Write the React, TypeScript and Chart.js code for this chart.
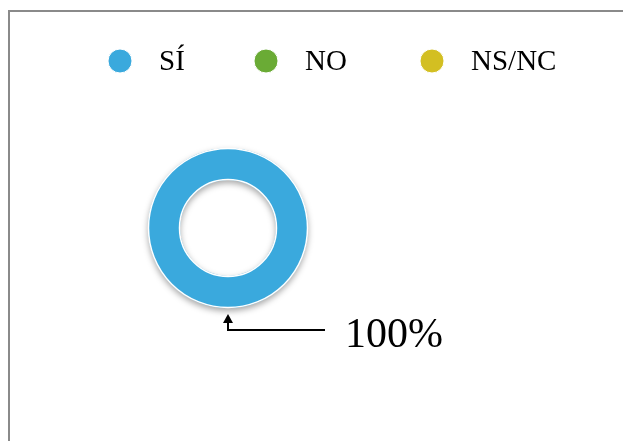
import React, { useEffect, useRef } from "react";
import { Chart, registerables } from "chart.js";

Chart.register(...registerables);

const categories = ["SÍ", "NO", "NS/NC"];
const values = [100, 0, 0];
const colors = ["#3AA9DD", "#6AAB35", "#D3BF22"];

const legendPlugin = {
  id: "customLegend",
  afterDraw(chart: any) {
    const ctx = chart.ctx;
    ctx.save();
    const cy = 61;
    const r = 12;
    const starts = [120, 266, 432];
    ctx.font = "29px 'Liberation Serif', 'Times New Roman', serif";
    ctx.textBaseline = "middle";
    categories.forEach((lab, i) => {
      const cx = starts[i];
      ctx.beginPath();
      ctx.arc(cx, cy, r, 0, Math.PI * 2);
      ctx.fillStyle = colors[i];
      ctx.fill();
      ctx.lineWidth = 1;
      ctx.strokeStyle = "#ffffff";
      ctx.stroke();
      ctx.fillStyle = "#000000";
      ctx.fillText(lab, cx + 39, cy + 1);
    });
    ctx.restore();
  },
};

const shadowPlugin = {
  id: "arcShadow",
  beforeDatasetDraw(chart: any) {
    const ctx = chart.ctx;
    ctx.save();
    ctx.shadowColor = "rgba(0,0,0,0.35)";
    ctx.shadowBlur = 6;
    ctx.shadowOffsetY = 3;
  },
  afterDatasetDraw(chart: any) {
    const ctx = chart.ctx;
    ctx.restore();
    const meta = chart.getDatasetMeta(0);
    const arc = meta.data[0];
    if (!arc) return;
    const { x, y, outerRadius, innerRadius } = arc.getProps(["x", "y", "outerRadius", "innerRadius"], true);
    ctx.save();
    ctx.strokeStyle = "#ffffff";
    ctx.lineWidth = 1.5;
    ctx.beginPath();
    ctx.arc(x, y, outerRadius - 0.5, 0, Math.PI * 2);
    ctx.stroke();
    ctx.beginPath();
    ctx.arc(x, y, innerRadius + 0.5, 0, Math.PI * 2);
    ctx.stroke();
    ctx.restore();
  },
};

const annotationPlugin = {
  id: "pctAnnotation",
  afterDraw(chart: any) {
    const meta = chart.getDatasetMeta(0);
    const total = values.reduce((a, b) => a + b, 0);
    const idx = values.findIndex((v) => v > 0);
    const arc = meta.data[idx];
    if (!arc) return;
    const { x, y, outerRadius } = arc.getProps(["x", "y", "outerRadius"], true);
    const ctx = chart.ctx;
    ctx.save();
    const tipY = y + outerRadius + 8;
    const lineY = tipY + 14;
    ctx.strokeStyle = "#000";
    ctx.lineWidth = 2;
    ctx.beginPath();
    ctx.moveTo(x, tipY + 4);
    ctx.lineTo(x, lineY);
    ctx.lineTo(x + 97, lineY);
    ctx.stroke();
    ctx.fillStyle = "#000";
    ctx.beginPath();
    ctx.moveTo(x, tipY - 2);
    ctx.lineTo(x - 5, tipY + 7);
    ctx.lineTo(x + 5, tipY + 7);
    ctx.closePath();
    ctx.fill();
    const pct = Math.round((values[idx] / total) * 100) + "%";
    ctx.font = "42px 'Liberation Serif', 'Times New Roman', serif";
    ctx.textBaseline = "alphabetic";
    ctx.fillText(pct, x + 117, lineY + 17);
    ctx.restore();
  },
};

export default function App() {
  const ref = useRef<HTMLCanvasElement>(null);
  useEffect(() => {
    if (!ref.current) return;
    const chart = new Chart(ref.current, {
      type: "doughnut",
      data: {
        labels: categories,
        datasets: [
          {
            data: values,
            backgroundColor: colors,
            borderColor: "#ffffff",
            borderWidth: 0,
          },
        ],
      },
      options: {
        responsive: false,
        animation: false,
        cutout: "60%",
        layout: { padding: { left: 148, right: 315, top: 148, bottom: 133 } },
        plugins: {
          legend: { display: false },
          tooltip: { enabled: false },
        },
      },
      plugins: [shadowPlugin, legendPlugin, annotationPlugin],
    });
    return () => chart.destroy();
  }, []);
  return (
    <div style={{ position: "absolute", left: 0, top: 0, width: 623, height: 441, background: "#fff", overflow: "hidden" }}>
      <div
        style={{
          position: "absolute",
          left: 8,
          top: 10,
          width: 640,
          height: 460,
          borderLeft: "2px solid #8a8a8a",
          borderTop: "2px solid #8a8a8a",
        }}
      />
      <canvas ref={ref} width={623} height={441} style={{ position: "absolute", left: 0, top: 0 }} />
    </div>
  );
}
